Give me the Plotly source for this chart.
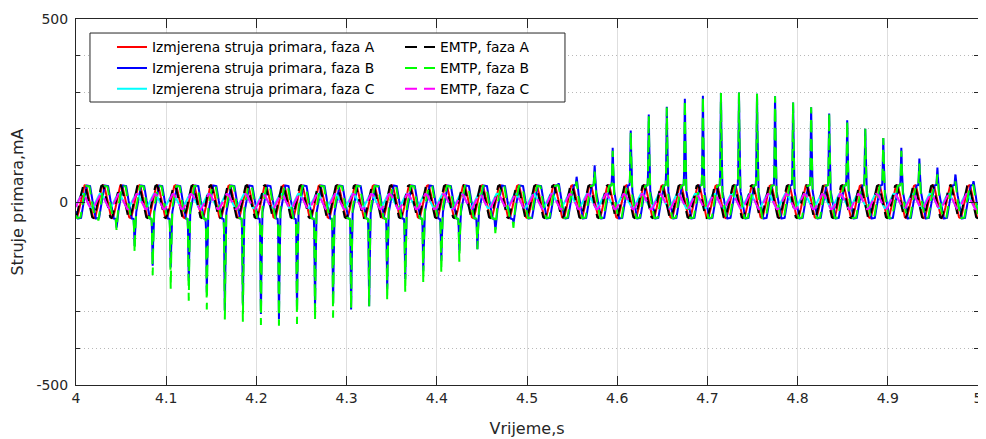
import numpy as np
import plotly.graph_objects as go

# ---------------- data ----------------
F_HZ = 50.0
t_start, t_end, n_samples = 4.0, 5.0, 10001

# base waveforms: (peak amplitude mA, time of a peak within one 20 ms period, dc offset)
meas_A = dict(amp=45, peak=0.0100, offset=1)
emtp_A = dict(amp=45, peak=0.0090, offset=1)
meas_B = dict(amp=55, peak=0.0135, offset=0, clip=45)
emtp_B = dict(amp=55, peak=0.0127, offset=0, clip=44)
meas_C = dict(amp=20, peak=0.0070, offset=3)
emtp_C = dict(amp=21, peak=0.0075, offset=1)

# negative current spikes, phase B (first half of the record)
neg_spike_t = [4.025, 4.045, 4.065, 4.085, 4.105, 4.125, 4.145, 4.165, 4.185, 4.205, 4.225, 4.245,
               4.265, 4.285, 4.305, 4.325, 4.345, 4.365, 4.385, 4.405, 4.425, 4.445, 4.465, 4.485]
neg_spike_meas_B = [-45, -70, -120, -174, -179, -215, -247, -297, -283, -306, -320, -292,
                    -288, -279, -294, -285, -238, -211, -189, -161, -133, -129, -75, -55]
neg_spike_emtp_B = [-49, -76, -138, -200, -238, -270, -294, -321, -327, -336, -338, -333,
                    -324, -316, -292, -285, -270, -247, -222, -194, -163, -129, -85, -70]

# positive current spikes, phase B (second half of the record)
pos_spike_t = [4.535, 4.555, 4.575, 4.595, 4.615, 4.635, 4.655, 4.675, 4.695, 4.715, 4.735, 4.755,
               4.775, 4.795, 4.815, 4.835, 4.855, 4.875, 4.895, 4.915, 4.935, 4.955, 4.975, 4.995]
pos_spike_meas_B = [51, 69, 100, 148, 195, 239, 260, 282, 290, 298, 299, 296,
                    289, 272, 259, 242, 223, 200, 175, 148, 119, 94, 75, 57]
pos_spike_emtp_B = [45, 55, 85, 140, 192, 237, 258, 280, 290, 298, 299, 296,
                    289, 272, 259, 242, 223, 200, 175, 140, 105, 75, 55, 45]

x_tick_vals = [4.0, 4.1, 4.2, 4.3, 4.4, 4.5, 4.6, 4.7, 4.8, 4.9, 5.0]
x_tick_text = ["4", "4.1", "4.2", "4.3", "4.4", "4.5", "4.6", "4.7", "4.8", "4.9", "5"]
y_tick_vals = [-500, 0, 500]
y_tick_text = ["-500", "0", "500"]
y_minor_vals = [-400, -300, -200, -100, 100, 200, 300, 400]

names = ["Izmjerena struja primara, faza A", "Izmjerena struja primara, faza B",
         "Izmjerena struja primara, faza C", "EMTP, faza A", "EMTP, faza B", "EMTP, faza C"]

# ---------------- build sampled waveforms ----------------
t = np.linspace(t_start, t_end, n_samples)


def base_at(p, tt):
    y = p["amp"] * np.cos(2 * np.pi * F_HZ * (tt - p["peak"]))
    if "clip" in p:
        y = np.clip(y, -p["clip"], p["clip"])
    return y + p["offset"]


def add_spikes(y, p, times, tips, sigma=0.00045):
    out = y.copy()
    for ts, tip in zip(times, tips):
        b = base_at(p, ts)
        out += (tip - b) * np.exp(-0.5 * ((t - ts) / sigma) ** 2)
    return out


yA_m = base_at(meas_A, t)
yA_e = base_at(emtp_A, t)
yB_m = add_spikes(add_spikes(base_at(meas_B, t), meas_B, neg_spike_t, neg_spike_meas_B),
                  meas_B, pos_spike_t, pos_spike_meas_B)
yB_e = add_spikes(add_spikes(base_at(emtp_B, t), emtp_B, neg_spike_t, neg_spike_emtp_B),
                  emtp_B, pos_spike_t, pos_spike_emtp_B)
yC_m = base_at(meas_C, t)
yC_e = base_at(emtp_C, t)

# ---------------- figure ----------------
DASH = "12px,7px"
LW = 2
fig = go.Figure()
# draw order: measured first, EMTP on top
fig.add_trace(go.Scatter(x=t, y=yA_m, mode="lines", name=names[0], line=dict(color="#ff0000", width=LW),
                         legend="legend", legendrank=1))
fig.add_trace(go.Scatter(x=t, y=yB_m, mode="lines", name=names[1], line=dict(color="#0000ff", width=LW),
                         legend="legend", legendrank=2))
fig.add_trace(go.Scatter(x=t, y=yC_m, mode="lines", name=names[2], line=dict(color="#00ffff", width=LW),
                         legend="legend", legendrank=3))
fig.add_trace(go.Scatter(x=t, y=yA_e, mode="lines", name=names[3],
                         line=dict(color="#000000", width=LW, dash=DASH), legend="legend2", legendrank=1))
fig.add_trace(go.Scatter(x=t, y=yB_e, mode="lines", name=names[4],
                         line=dict(color="#00ff00", width=LW, dash=DASH), legend="legend2", legendrank=2))
fig.add_trace(go.Scatter(x=t, y=yC_e, mode="lines", name=names[5],
                         line=dict(color="#ff00ff", width=LW, dash=DASH), legend="legend2", legendrank=3))

AX = "#262626"
FONT = "DejaVu Sans, Verdana, sans-serif"
leg_common = dict(yanchor="top", xanchor="left", bgcolor="rgba(0,0,0,0)", borderwidth=0,
                  font=dict(size=13.8, color="#000000", family=FONT), orientation="v",
                  tracegroupgap=0)

# the page body has an 8 px margin, so the figure is sized to fit the 986x439 window from (8, 8)
fig.update_layout(
    width=978, height=431,
    margin=dict(l=68, r=8, t=11, b=54, autoexpand=False),
    plot_bgcolor="white", paper_bgcolor="white",
    font=dict(family=FONT, size=14, color=AX),
    showlegend=True,
    legend=dict(x=0.0399, y=0.9658, **leg_common),
    legend2=dict(x=0.3592, y=0.9658, **leg_common),
    shapes=[dict(type="rect", xref="paper", yref="paper", x0=0.0155, x1=0.5421, y0=0.7732, y1=0.9617,
                 line=dict(color=AX, width=1), fillcolor="white", layer="above")],
)

fig.update_xaxes(
    range=[t_start, t_end], tickmode="array", tickvals=x_tick_vals, ticktext=x_tick_text,
    ticks="inside", ticklen=9, tickcolor=AX, showline=True, linecolor=AX, linewidth=1, mirror="ticks",
    showgrid=True, gridcolor="#dedede", gridwidth=1, zeroline=False, automargin=False,
    tickfont=dict(size=14, color=AX, family=FONT),
    title=dict(text="Vrijeme,s", font=dict(size=16, color=AX, family=FONT), standoff=18),
)
fig.update_yaxes(
    range=[-500, 500], tickmode="array", tickvals=y_tick_vals, ticktext=y_tick_text,
    ticks="inside", ticklen=9, tickcolor=AX, showline=True, linecolor=AX, linewidth=1, mirror="ticks",
    showgrid=True, gridcolor="#dedede", gridwidth=1, zeroline=False, automargin=False,
    ticklabelstandoff=4,
    tickfont=dict(size=14, color=AX, family=FONT),
    minor=dict(tickmode="array", tickvals=y_minor_vals, ticks="inside", ticklen=4, tickcolor=AX,
               showgrid=True, gridcolor="#b8b8b8", gridwidth=1, griddash="1px,3px"),
    title=dict(text="Struje primara,mA", font=dict(size=16, color=AX, family=FONT), standoff=14),
)

fig.write_html("out.html")
